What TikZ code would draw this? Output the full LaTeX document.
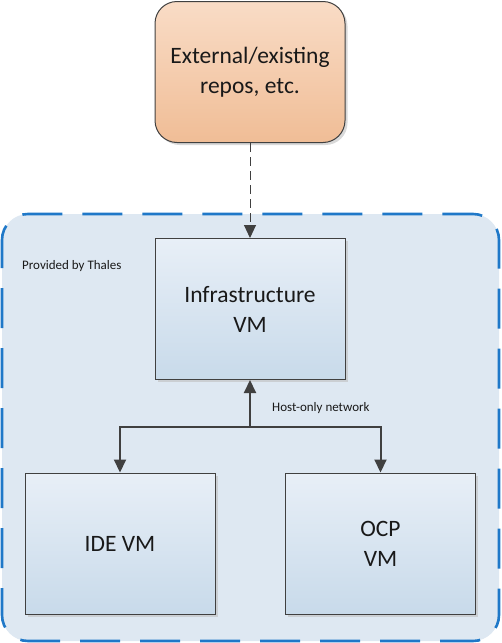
\documentclass[tikz,border=0pt]{standalone}
\usepackage{fontspec}
\setmainfont{Carlito}
\usetikzlibrary{positioning, arrows.meta, shadows}

\definecolor{lineclr}{HTML}{404040}
\definecolor{frameclr}{HTML}{1F78C8}
\definecolor{framefill}{HTML}{DEE8F2}
\definecolor{repotop}{HTML}{F9DCC6}
\definecolor{repobot}{HTML}{F0BD96}
\definecolor{vmtop}{HTML}{E8EFF7}
\definecolor{vmbot}{HTML}{C8DAEA}

\begin{document}
\begin{tikzpicture}
  [x=1pt, y=-1pt,
   box/.style = {
     rectangle, align=center, text=black!90, draw=lineclr, line width=1pt,
     minimum width=190pt, minimum height=141pt, font=\fontsize{23.5}{30}\selectfont,
     drop shadow={shadow xshift=2.5pt, shadow yshift=-2.5pt, fill=black!25, opacity=0.6}},
   repo/.style = {box, rounded corners=22pt, top color=repotop, bottom color=repobot},
   vm/.style = {box, top color=vmtop, bottom color=vmbot},
   frame/.style = {draw=frameclr, line width=2.6pt, fill=framefill,
     rounded corners=26pt, dash pattern=on 40pt off 20pt, dash phase=12pt},
   lbl/.style = {font=\fontsize{13}{15}\selectfont, text=black!90, inner sep=1pt},
   link/.style = {draw=lineclr, line width=2pt, -{Triangle[length=13pt, width=12pt]}}
  ]
  \useasboundingbox (0,0) rectangle (502,643);
  \draw[frame] (2,214) rectangle (499,641);

  \node[repo] (repo) at (250,72) {External/existing\\repos, etc.};
  \node[vm, below=95pt of repo] (infra) {Infrastructure\\VM};
  \node[vm] (ide) at (120,543.5) {IDE VM};
  \node[vm] (ocp) at (380.5,543.5) {OCP\\VM};

  \node[lbl, anchor=west] (thales) at (21,266) {Provided by Thales};
  \node[lbl, anchor=west] (hostnet) at (271,408) {Host-only network};

  \coordinate (hub) at (infra.south |- 0,427);
  \draw[link, line width=1pt, dash pattern=on 9pt off 5pt] (repo) -- (infra);
  \draw[link] (hub) -- (infra);
  \draw[link] (hub) -| (ide);
  \draw[link] (hub) -| (ocp);
\end{tikzpicture}
\end{document}
